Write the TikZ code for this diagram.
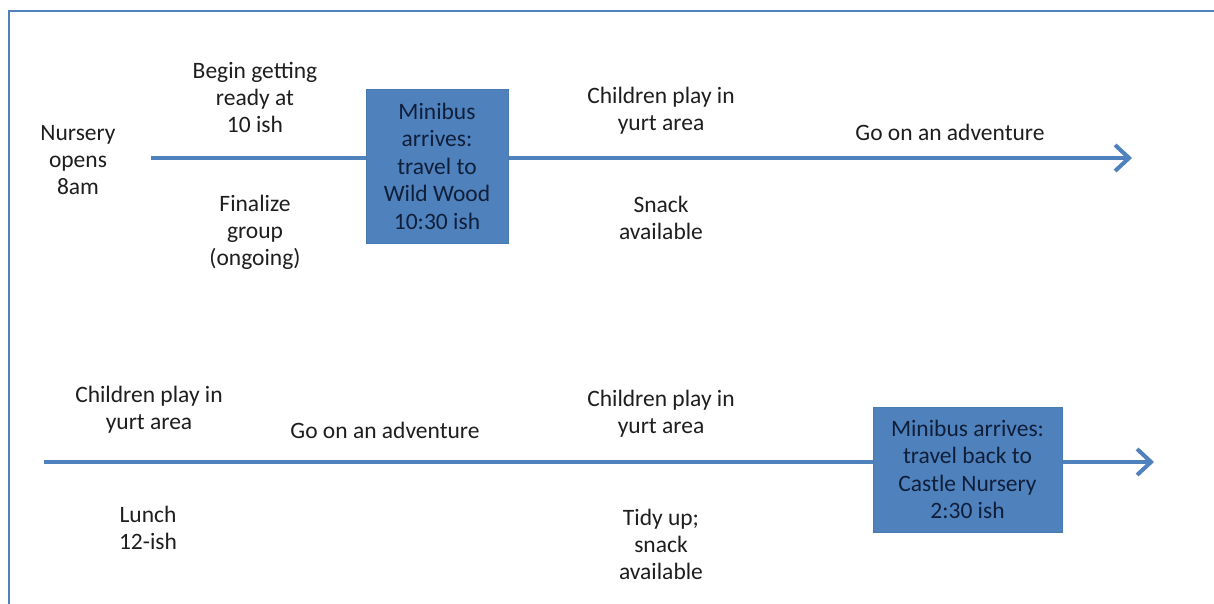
\documentclass[tikz,border=0pt]{standalone}
\usepackage{fontspec}
\setmainfont{Carlito}
\usetikzlibrary{arrows.meta}
\definecolor{obl}{HTML}{4F81BD}
\definecolor{obd}{HTML}{4A7AB4}
\definecolor{txt}{HTML}{1E1E1E}
\definecolor{boxtxt}{HTML}{0F1F3A}
\tikzset{
  lbl/.style={align=center, text=txt, font=\fontsize{23.5}{27}\selectfont, inner sep=0pt},
  bus/.style={align=center, text=boxtxt, fill=obl, draw=obd, line width=1pt, font=\fontsize{23.5}{27.5}\selectfont, inner sep=0pt},
  tl/.style={draw=obl, line width=4pt},
  tla/.style={draw=obl, line width=4pt, -{Straight Barb[length=14pt,width=26pt,line width=4pt]}},
  frame/.style={draw=obl, line width=1.6pt}
}
\begin{document}
\begin{tikzpicture}[x=1pt,y=-1pt]
\useasboundingbox (0,0) rectangle (1214,603);
\clip (0,0) rectangle (1214,603);
\fill[white] (0,0) rectangle (1214,603);
\draw[frame] (9,11) rectangle (1230,620);
% top timeline
\coordinate (s1) at (151,158);
\coordinate (e1) at (1132,158);
\node[bus, minimum width=142pt, minimum height=154pt] (b1) at (437,166) {Minibus\\arrives:\\travel to\\Wild Wood\\10:30 ish};
\draw[tl] (s1) -- (b1.west |- s1);
\draw[tla] (b1.east |- s1) -- (e1);
\node[lbl] (n1) at (78,160) {Nursery\\opens\\8am};
\node[lbl] (n2) at (255,97) {Begin getting\\ready at\\10 ish};
\node[lbl] (n3) at (255,232) {Finalize\\group\\(ongoing)};
\node[lbl] (n4) at (661,111) {Children play in\\yurt area};
\node[lbl] (n5) at (661,218) {Snack\\available};
\node[lbl] (n6) at (950,132) {Go on an adventure};
% bottom timeline
\coordinate (s2) at (44,462);
\coordinate (e2) at (1154,462);
\node[bus, minimum width=189pt, minimum height=125pt] (b2) at (967.5,469.5) {Minibus arrives:\\travel back to\\Castle Nursery\\2:30 ish};
\draw[tl] (s2) -- (b2.west |- s2);
\draw[tla] (b2.east |- s2) -- (e2);
\node[lbl] (m1) at (149,410) {Children play in\\yurt area};
\node[lbl] (m2) at (385,430) {Go on an adventure};
\node[lbl] (m3) at (661,414) {Children play in\\yurt area};
\node[lbl] (m4) at (148,528) {Lunch\\12-ish};
\node[lbl] (m5) at (661,544) {Tidy up;\\snack\\available};
\end{tikzpicture}
\end{document}
